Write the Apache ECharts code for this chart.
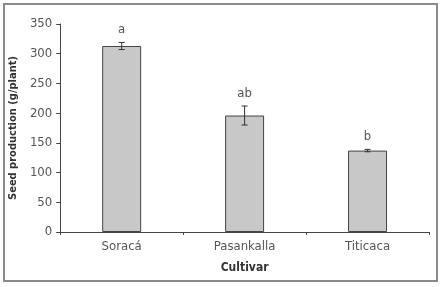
<!DOCTYPE html>
<html lang="en" style="height: 100%">
<head>
  <meta charset="utf-8" />
  <title>Seed production</title>
</head>
<body style="height: 100%; margin: 0; background: #fff">
  <div id="container" style="width: 443px; height: 287px"></div>

  <script src="https://cdn.jsdelivr.net/npm/echarts@6/dist/echarts.min.js"></script>
  <script>
    // data
    const cultivars = ['Soracá', 'Pasankalla', 'Titicaca'];
    const seedMeans = [313, 196, 137];
    const seedErrors = [6, 16, 2];
    const sigLetters = ['a', 'ab', 'b'];

    const FONT = '"DejaVu Sans Condensed", "Liberation Sans", Arial, sans-serif';

    const errData = cultivars.map(function (c, i) {
      return [i, seedMeans[i] - seedErrors[i], seedMeans[i] + seedErrors[i], sigLetters[i]];
    });

    var dom = document.getElementById('container');
    var myChart = echarts.init(dom, null, { renderer: 'canvas' });

    var option = {
      animation: false,
      grid: { left: 56, right: 14, top: 24, bottom: 55 },
      graphic: [{
        type: 'rect',
        shape: { x: 4, y: 4, width: 433, height: 277 },
        style: { fill: 'none', stroke: '#8a8a8a', lineWidth: 2 },
        silent: true
      }],
      xAxis: {
        type: 'category',
        data: cultivars,
        name: 'Cultivar',
        nameLocation: 'middle',
        nameGap: 30,
        nameTextStyle: { fontFamily: FONT, fontWeight: 'bold', fontSize: 12, color: '#333' },
        axisLine: { lineStyle: { color: '#444', width: 1 } },
        axisTick: { show: true, length: 3, lineStyle: { color: '#444' } },
        axisLabel: { fontFamily: FONT, fontSize: 13, color: '#555', margin: 8 }
      },
      yAxis: {
        type: 'value',
        min: 0,
        max: 350,
        interval: 50,
        name: 'Seed production (g/plant)',
        nameLocation: 'middle',
        nameGap: 38,
        nameTextStyle: { fontFamily: FONT, fontWeight: 'bold', fontSize: 11, color: '#333' },
        axisLine: { show: true, lineStyle: { color: '#444', width: 1 } },
        axisTick: { show: true, length: 4, lineStyle: { color: '#444' } },
        axisLabel: { fontFamily: FONT, fontSize: 13, color: '#555', margin: 8 },
        splitLine: { show: false }
      },
      series: [
        {
          type: 'bar',
          data: seedMeans,
          barWidth: 39,
          itemStyle: { color: '#c8c8c8', borderColor: '#444', borderWidth: 1 }
        },
        {
          type: 'custom',
          data: errData,
          z: 10,
          renderItem: function (params, api) {
            var lo = api.coord([api.value(0), api.value(1)]);
            var hi = api.coord([api.value(0), api.value(2)]);
            var x = lo[0];
            var hw = 3;
            var st = { stroke: '#333', lineWidth: 1 };
            return {
              type: 'group',
              children: [
                { type: 'line', shape: { x1: x, y1: lo[1], x2: x, y2: hi[1] }, style: st },
                { type: 'line', shape: { x1: x - hw, y1: lo[1], x2: x + hw, y2: lo[1] }, style: st },
                { type: 'line', shape: { x1: x - hw, y1: hi[1], x2: x + hw, y2: hi[1] }, style: st },
                {
                  type: 'text',
                  style: {
                    x: x, y: hi[1] - 6,
                    text: api.value(3),
                    align: 'center', verticalAlign: 'bottom',
                    fontFamily: FONT, fontSize: 13, fill: '#555'
                  }
                }
              ]
            };
          }
        }
      ]
    };

    myChart.setOption(option);

    window.onresize = function () {
      myChart.resize();
    };
  </script>
</body>
</html>
